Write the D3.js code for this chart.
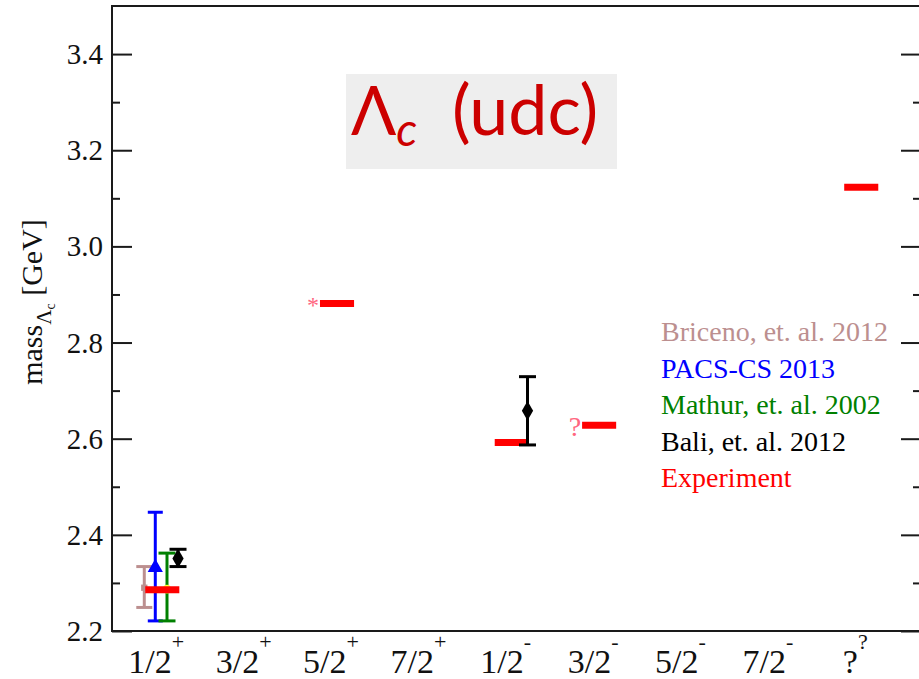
<!DOCTYPE html>
<html>
<head>
<meta charset="utf-8">
<script src="https://cdn.jsdelivr.net/npm/d3@7/dist/d3.min.js"></script>
<style>
  html, body { margin: 0; padding: 0; background: #fff; }
  svg { display: block; }
</style>
</head>
<body>
<svg id="chart" width="919" height="679"></svg>
<script>
// ---------- DATA ----------
const categories = ["1/2", "3/2", "5/2", "7/2", "1/2", "3/2", "5/2", "7/2", "?"];
const parities   = ["+",   "+",   "+",   "+",   "-",   "-",   "-",   "-",   "?"];
const yMajorTicks = [2.2, 2.4, 2.6, 2.8, 3.0, 3.2, 3.4];
const yMinorTicks = [2.3, 2.5, 2.7, 2.9, 3.1, 3.3];

// Experiment (category index 1..9, mass GeV, note)
const expCat  = [1, 3, 5, 6, 9];
const expMass = [2.286, 2.881, 2.592, 2.628, 3.123];
const expNote = ["", "*", "", "?", ""];

// Lattice results: category, central, low, high
const bricenoCat = [1]; const bricenoMass = [2.290]; const bricenoLo = [2.249]; const bricenoHi = [2.334];
const pacsCat    = [1]; const pacsMass    = [2.332]; const pacsLo    = [2.221]; const pacsHi    = [2.447];
const mathurCat  = [1]; const mathurMass  = [2.287]; const mathurLo  = [2.221]; const mathurHi  = [2.362];
const baliCat    = [1, 5]; const baliMass = [2.351, 2.658]; const baliLo = [2.334, 2.587]; const baliHi = [2.370, 2.729];

const legendLabels = ["Briceno, et. al. 2012", "PACS-CS 2013", "Mathur, et. al. 2002", "Bali, et. al. 2012", "Experiment"];
const legendColors = ["#bc8f8f", "#0000ff", "#008000", "#000000", "#ff0000"];

// ---------- LAYOUT ----------
const svg = d3.select("#chart");
const pLeft = 112, pRight = 921, pTop = 6, pBottom = 631;
const x = d3.scaleLinear().domain([0.4245, 9.684]).range([pLeft, pRight]);
const y = d3.scaleLinear().domain([2.2, 3.5]).range([pBottom, pTop]);

const serif = "'Liberation Serif','Times New Roman',serif";

// title box
svg.append("rect").attr("x", 346).attr("y", 74).attr("width", 271).attr("height", 95).attr("fill", "#eeeeee");
const title = svg.append("text").attr("x", 351).attr("y", 135)
  .attr("font-family", "Lato, 'Open Sans', sans-serif").attr("fill", "#cc0000");
title.append("tspan").attr("font-size", 67).text("Λ");
title.append("tspan").attr("font-size", 46).attr("font-style", "italic").attr("dy", 11).text("c");
title.append("tspan").attr("font-size", 70).attr("x", 452).attr("dy", -11).text("(udc)");

// frame
svg.append("rect").attr("x", pLeft).attr("y", pTop).attr("width", pRight - pLeft).attr("height", pBottom - pTop)
  .attr("fill", "none").attr("stroke", "#1a1a1a").attr("stroke-width", 2);

// y ticks via axes
const majorLen = 20, minorLen = 8;
function tickGroup(tx, ticks, len, dir) {
  const ax = (dir === "left" ? d3.axisRight(y) : d3.axisLeft(y)).tickValues(ticks).tickSize(len).tickFormat("");
  const g = svg.append("g").attr("transform", `translate(${tx},0)`).call(ax);
  g.select(".domain").remove();
  g.selectAll("line").attr("stroke", "#1a1a1a").attr("stroke-width", 2);
}
tickGroup(pLeft, yMajorTicks, majorLen, "left");
tickGroup(pLeft, yMinorTicks, minorLen, "left");
tickGroup(pRight, yMajorTicks, majorLen, "right");
tickGroup(pRight, yMinorTicks, minorLen, "right");

// y tick labels
svg.append("g").selectAll("text").data(yMajorTicks).join("text")
  .attr("x", 103).attr("y", d => y(d) + 10)
  .attr("text-anchor", "end").attr("font-family", serif).attr("font-size", 29).attr("fill", "#111")
  .text(d => d.toFixed(1));

// x labels
const xl = svg.append("g").selectAll("text").data(categories).join("text")
  .attr("x", (d, i) => x(i + 1) - 6).attr("y", 673)
  .attr("text-anchor", "middle").attr("font-family", serif).attr("font-size", 34).attr("fill", "#111");
xl.append("tspan").text(d => d);
xl.append("tspan").attr("font-size", 22).attr("dy", -24).text((d, i) => parities[i]);

// y axis label
const yl = svg.append("text").attr("transform", "translate(42,302) rotate(-90)")
  .attr("text-anchor", "middle").attr("font-family", serif).attr("font-size", 30).attr("fill", "#111");
yl.append("tspan").text("mass");
yl.append("tspan").attr("font-size", 21).attr("dy", 9).text("Λ");
yl.append("tspan").attr("font-size", 14).attr("dy", 4).text("c");
yl.append("tspan").attr("dy", -13).text(" [GeV]");

// ---------- MARKS ----------
function errorSeries(cats, mass, lo, hi, color, offset, capW, marker) {
  const data = cats.map((c, i) => ({c, m: mass[i], lo: lo[i], hi: hi[i]}));
  const g = svg.append("g");
  const cx = d => x(d.c + offset);
  g.selectAll(".v").data(data).join("line")
    .attr("x1", cx).attr("x2", cx).attr("y1", d => y(d.lo)).attr("y2", d => y(d.hi))
    .attr("stroke", color).attr("stroke-width", 3);
  g.selectAll(".ct").data(data).join("line")
    .attr("x1", d => cx(d) - capW / 2).attr("x2", d => cx(d) + capW / 2)
    .attr("y1", d => y(d.hi)).attr("y2", d => y(d.hi)).attr("stroke", color).attr("stroke-width", 3);
  g.selectAll(".cb").data(data).join("line")
    .attr("x1", d => cx(d) - capW / 2).attr("x2", d => cx(d) + capW / 2)
    .attr("y1", d => y(d.lo)).attr("y2", d => y(d.lo)).attr("stroke", color).attr("stroke-width", 3);
  if (marker) {
    g.selectAll(".m").data(data).join("path")
      .attr("transform", d => `translate(${cx(d)},${y(d.m)})`)
      .attr("d", d3.symbol().type(marker.type).size(marker.size))
      .attr("fill", marker.fill).attr("stroke", marker.stroke || "none");
  }
}

errorSeries(bricenoCat, bricenoMass, bricenoLo, bricenoHi, "#bc8f8f", -0.206, 16, {type: d3.symbolSquare, size: 40, fill: "#bc8f8f"});
errorSeries(pacsCat, pacsMass, pacsLo, pacsHi, "#0000ff", -0.08, 15, {type: d3.symbolTriangle, size: 100, fill: "#0000ff"});
errorSeries(mathurCat, mathurMass, mathurLo, mathurHi, "#008000", 0.054, 17, {type: d3.symbolCircle, size: 60, fill: "#ffff33"});

// experiment bars
const expData = expCat.map((c, i) => ({c, m: expMass[i], note: expNote[i]}));
const halfW = 0.195;
svg.append("g").selectAll("line").data(expData).join("line")
  .attr("x1", d => x(d.c - halfW)).attr("x2", d => x(d.c + halfW))
  .attr("y1", d => y(d.m)).attr("y2", d => y(d.m))
  .attr("stroke", "#ff0000").attr("stroke-width", 7);
svg.append("g").selectAll("text").data(expData.filter(d => d.note)).join("text")
  .attr("x", d => x(d.c - halfW) - 1).attr("y", d => y(d.m) + (d.note === "*" ? 9 : 11))
  .attr("text-anchor", "end").attr("font-family", serif).attr("font-size", d => d.note === "*" ? 24 : 28)
  .attr("fill", "#ff6680").text(d => d.note);

errorSeries(baliCat, baliMass, baliLo, baliHi, "#000000", 0.18, 17, {type: d3.symbolDiamond, size: 110, fill: "#000"});

// legend
svg.append("g").selectAll("text").data(legendLabels).join("text")
  .attr("x", 661).attr("y", (d, i) => 341 + i * 36.5)
  .attr("font-family", serif).attr("font-size", 28)
  .attr("fill", (d, i) => legendColors[i]).text(d => d);
</script>
</body>
</html>
